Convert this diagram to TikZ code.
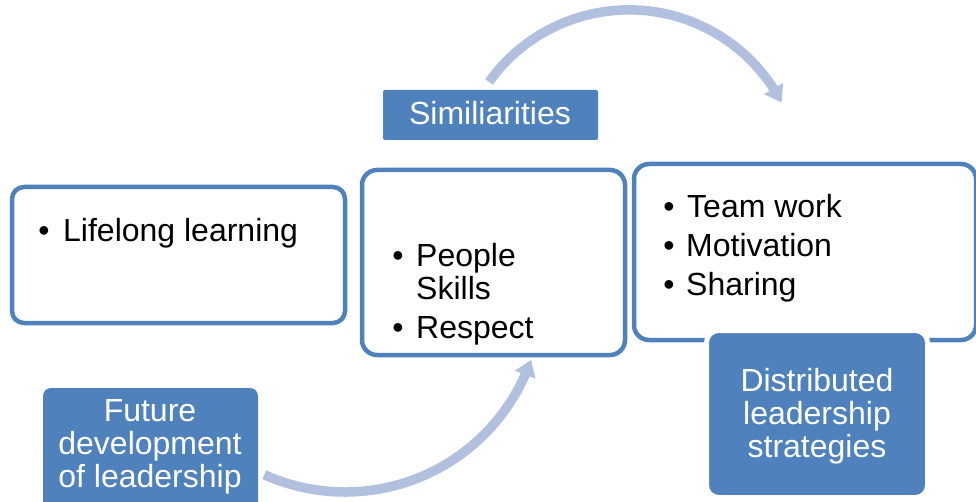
\documentclass[tikz,border=0pt]{standalone}
\usepackage{fontspec}
\setmainfont{Liberation Sans}
\usetikzlibrary{arrows.meta,bending}
\definecolor{boxblue}{RGB}{79,129,189}
\definecolor{arrowblue}{RGB}{176,192,222}
\begin{document}
\begin{tikzpicture}[x=1pt,y=-1pt,
  outlinebox/.style={draw=boxblue, line width=4.5pt, fill=white, inner sep=0pt, rounded corners=#1},
  fillbox/.style={fill=boxblue, inner sep=0pt, rounded corners=#1},
  txt/.style={inner sep=0pt, font=\fontsize{32pt}{33pt}\selectfont},
  bul/.style={txt, anchor=base},
  itemtext/.style={txt, anchor=base west, align=left},
  lbl/.style={txt, text=white, anchor=base, align=center},
  bigarrow/.style={draw=arrowblue, line width=9.5pt, -{Triangle[width=21pt,length=16pt]}}
]
\clip (0,0) rectangle (976,502);
% curved arrows
\coordinate (topstart) at (489,82);
\coordinate (botstart) at (264.3,474.7);
\draw[bigarrow] (topstart) arc[start angle=-144.5, end angle=-27.5, radius=172];
\draw[bigarrow] (botstart) arc[start angle=114.2, end angle=19.2, radius=197];
% outline boxes
\node[outlinebox=12pt, minimum width=333pt, minimum height=136pt] (lifelong) at (178.5,255) {};
\node[outlinebox=15pt, minimum width=263pt, minimum height=185pt] (similar) at (493.5,262.5) {};
\node[outlinebox=15pt, minimum width=342pt, minimum height=176pt] (distrib) at (805,252) {};
% filled label boxes
\node[fillbox=2pt, minimum width=215pt, minimum height=50pt] (simbox) at (490.5,115) {};
\node[fillbox=8pt, minimum width=215pt, minimum height=132pt] (futbox) at (150.5,454) {};
\node[fillbox=12pt, draw=white, line width=5pt, minimum width=221pt, minimum height=167pt] (distbox) at (817,414) {};
% texts
\node[bul] (b1) at (44,242) {•};
\node[itemtext] (t1) at (63,242) {Lifelong learning};
\node[bul] (b2) at (398,267) {•};
\node[itemtext] (t2) at (416,300) {People\\Skills};
\node[bul] (b3) at (398,338) {•};
\node[itemtext] (t3) at (416,338) {Respect};
\node[bul] (b4) at (669,218) {•};
\node[itemtext] (t4) at (687,218) {Team work};
\node[bul] (b5) at (669,257) {•};
\node[itemtext] (t5) at (686,257) {Motivation};
\node[bul] (b6) at (669,295) {•};
\node[itemtext] (t6) at (686,295) {Sharing};
\node[lbl] (simlabel) at (490,125) {Similiarities};
\node[lbl] (futlabel) at (150,487) {Future\\development\\of leadership};
\node[lbl] (distlabel) at (817,457) {Distributed\\leadership\\strategies};
\end{tikzpicture}
\end{document}
